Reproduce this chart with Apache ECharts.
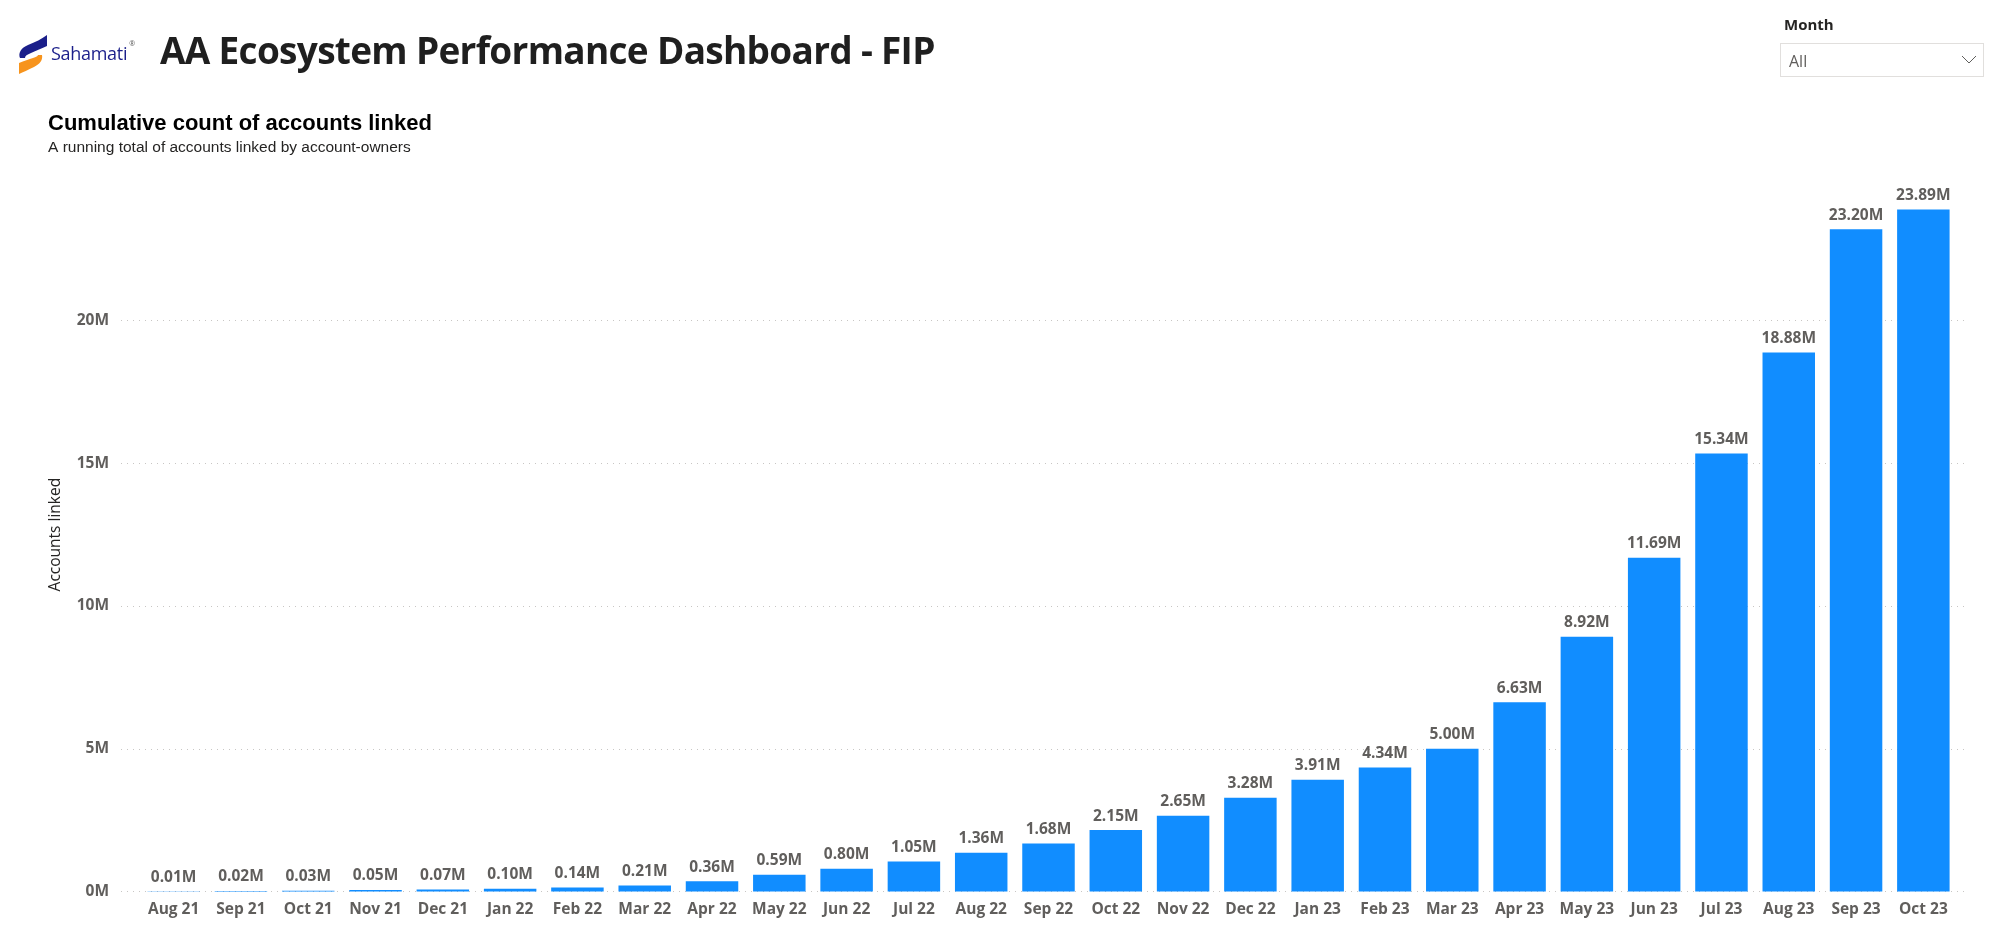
<!DOCTYPE html>
<html>
<head>
<meta charset="utf-8">
<script src="https://cdn.jsdelivr.net/npm/echarts@6/dist/echarts.min.js"></script>
<style>
html,body{margin:0;padding:0;background:#fff;width:1994px;height:936px;overflow:hidden;}
#chart{position:absolute;left:0;top:0;width:1994px;height:936px;}
#logo{position:absolute;left:16px;top:34px;}
#brand{position:absolute;left:51px;top:41px;font-family:"Open Sans",sans-serif;font-size:18px;color:#1b1f8a;letter-spacing:-0.3px;}
#brand sup{font-size:7px;color:#555;margin-left:2px;vertical-align:top;position:relative;top:-2px;}
#mainTitle{position:absolute;left:160px;top:24px;font-family:"Open Sans",sans-serif;font-weight:700;font-size:37px;color:#1f1f1f;letter-spacing:-0.7px;white-space:nowrap;}
#sliceLabel{position:absolute;left:1784px;top:14px;font-family:"Open Sans",sans-serif;font-weight:700;font-size:15px;color:#252423;}
#sliceBox{position:absolute;left:1780px;top:43px;width:204px;height:34px;border:1px solid #e1dfdd;box-sizing:border-box;}
#sliceVal{position:absolute;left:8px;top:6px;font-family:"Open Sans",sans-serif;font-size:16px;color:#605e5c;}
#chev{position:absolute;right:6px;top:11px;}
</style>
</head>
<body>
<div id="chart"></div>
<svg id="logo" width="34" height="40" viewBox="0 0 34 40">
  <path d="M31 1 L31 12 C26 14 20 17 15 19 C11 20.5 9 22 9 24 L4 24 C2 19 5 14 12 11 C19 8 26 5 31 1 Z" fill="#1b1f8a"/>
  <path d="M26 21 C27 26 24 30 18 33 C12 36 7 38 3 40 L3 29 C8 27 13 25 17 24 C20 23 22 22 22 21 Z" fill="#f7941d"/>
</svg>
<div id="brand">Sahamati<sup>®</sup></div>
<div id="mainTitle">AA Ecosystem Performance Dashboard - FIP</div>
<div id="sliceLabel">Month</div>
<div id="sliceBox"><div id="sliceVal">All</div>
<svg id="chev" width="16" height="10" viewBox="0 0 16 10"><path d="M1 1 L8 8 L15 1" fill="none" stroke="#605e5c" stroke-width="1"/></svg>
</div>
<script>
// ---- data ----
const months = ["Aug 21","Sep 21","Oct 21","Nov 21","Dec 21","Jan 22","Feb 22","Mar 22","Apr 22","May 22","Jun 22","Jul 22","Aug 22","Sep 22","Oct 22","Nov 22","Dec 22","Jan 23","Feb 23","Mar 23","Apr 23","May 23","Jun 23","Jul 23","Aug 23","Sep 23","Oct 23"];
const accountsLinkedM = [0.01,0.02,0.03,0.05,0.07,0.10,0.14,0.21,0.36,0.59,0.80,1.05,1.36,1.68,2.15,2.65,3.28,3.91,4.34,5.00,6.63,8.92,11.69,15.34,18.88,23.20,23.89];
const yTicksM = [0,5,10,15,20];

const chart = echarts.init(document.getElementById('chart'), null, {renderer:'canvas'});
const gray = '#605E5C';
const lblFont = {fontFamily:'"Open Sans", sans-serif', fontWeight:'bold', fontSize:15.5, color:gray};

chart.setOption({
  animation:false,
  title:[{
    text:'Cumulative count of accounts linked',
    subtext:'A running total of accounts linked by account-owners',
    left:43, top:108,
    itemGap:5,
    textStyle:{fontFamily:'"Liberation Sans", Arial, sans-serif', fontWeight:'bold', fontSize:22, color:'#000'},
    subtextStyle:{fontFamily:'"Liberation Sans", Arial, sans-serif', fontSize:15.5, color:'#252423'}
  }],
  grid:[
    {left:140, right:37, top:177.75, bottom:44.5},
    {left:121, right:29, top:320.5, bottom:44.5}
  ],
  xAxis:[
    {type:'category', gridIndex:0, data:months,
     axisLine:{show:false}, axisTick:{show:false},
     axisLabel:Object.assign({margin:10, interval:0}, lblFont)},
    {type:'category', gridIndex:1, data:['a'], show:false}
  ],
  yAxis:[
    {type:'value', gridIndex:0, min:0, max:25,
     name:'Accounts linked', nameLocation:'middle', nameGap:76, nameRotate:90,
     nameTextStyle:{fontFamily:'"Open Sans", sans-serif', fontSize:15.5, color:'#252423'},
     axisLine:{show:false}, axisTick:{show:false}, axisLabel:{show:false}, splitLine:{show:false}},
    {type:'value', gridIndex:1, min:yTicksM[0], max:yTicksM[yTicksM.length-1], interval:5,
     axisLine:{show:false}, axisTick:{show:false},
     axisLabel:Object.assign({margin:12, formatter:v=>v+'M'}, lblFont),
     splitLine:{show:true, lineStyle:{type:[1,5], color:'#c8c6c4', width:1}}}
  ],
  series:[{
    type:'bar', xAxisIndex:0, yAxisIndex:0,
    data:accountsLinkedM,
    barCategoryGap:'22%',
    itemStyle:{color:'#118DFF'},
    label:Object.assign({show:true, position:'top', distance:6, formatter:p=>p.value.toFixed(2)+'M'}, lblFont)
  }]
});
</script>
</body>
</html>
